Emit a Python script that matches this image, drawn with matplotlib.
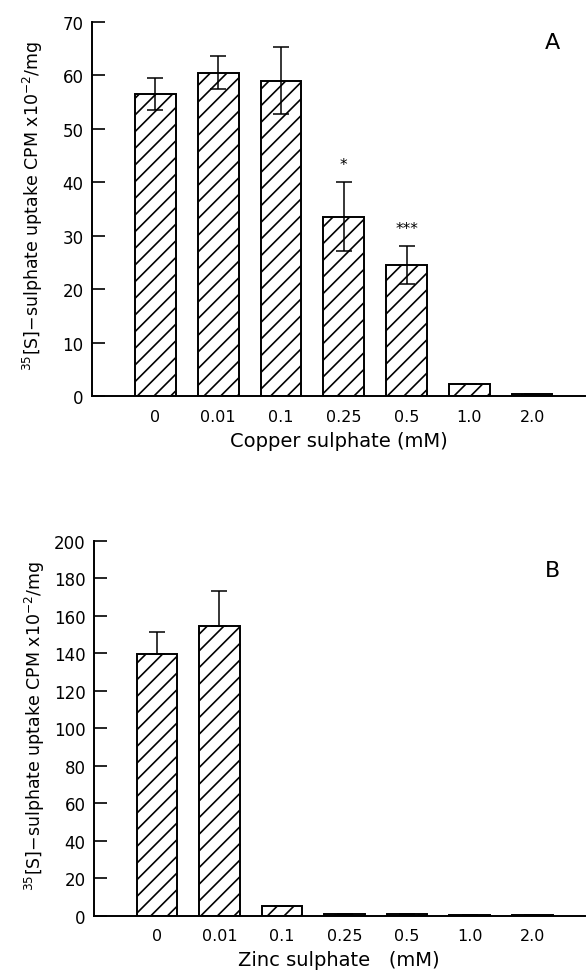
import matplotlib
matplotlib.use('Agg')
import matplotlib.pyplot as plt
import numpy as np

# Dados
conc = ['0', '0.01', '0.1', '0.25', '0.5', '1.0', '2.0']

cobre = [56.5, 60.5, 59.0, 33.6, 24.5, 2.2, 0.3]
cobre_err = [3.0, 3.1, 6.3, 6.4, 3.6, 0.0, 0.0]
cobre_sig = ['', '', '', '*', '***', '', '']

zinco = [139.5, 154.8, 5.0, 1.0, 0.8, 0.6, 0.6]
zinco_err = [12.0, 18.4, 0.0, 0.0, 0.0, 0.0, 0.0]

ylabel = r'$^{35}$[S]$-$sulphate uptake CPM x10$^{-2}$/mg'

plt.rcParams['font.family'] = 'DejaVu Sans'
plt.rcParams['hatch.linewidth'] = 1.2

fig = plt.figure(figsize=(5.86, 9.78), dpi=100)
axA = fig.add_axes([0.157, 0.594, 0.841, 0.3825])
axB = fig.add_axes([0.160, 0.0627, 0.838, 0.3831])


def painel(ax, valores, yerr, ymax, passo, xlabel, letra, ypos_letra):
    x = np.arange(len(conc))
    ax.bar(x, valores, width=0.65, color='white', edgecolor='black',
           linewidth=1.4, hatch='//', zorder=2)
    ax.errorbar(x, valores, yerr=yerr, fmt='none', ecolor='black',
                elinewidth=1.1, capsize=6, capthick=1.1, zorder=3)
    ax.set_xlim(-1.01, 6.84)
    ax.set_ylim(0, ymax)
    ax.set_yticks(np.arange(0, ymax + 1, passo))
    ax.set_xticks(x)
    ax.set_xticklabels(conc)
    ax.spines['top'].set_visible(False)
    ax.spines['right'].set_visible(False)
    ax.spines['left'].set_linewidth(1.4)
    ax.spines['bottom'].set_linewidth(1.4)
    ax.tick_params(axis='y', direction='in', length=9, width=1.2,
                   labelsize=12, pad=6)
    ax.tick_params(axis='x', length=0, labelsize=11.5, pad=9)
    ax.set_xlabel(xlabel, fontsize=14, labelpad=5)
    ax.set_ylabel(ylabel, fontsize=12.5)
    ax.yaxis.set_label_coords(-0.095, 0.51)
    ax.text(0.935, ypos_letra, letra, transform=ax.transAxes, fontsize=16,
            ha='center', va='center')
    return x


x = painel(axA, cobre, cobre_err, 70, 10, 'Copper sulphate (mM)', 'A', 0.947)
for xi, v, e, s in zip(x, cobre, cobre_err, cobre_sig):
    if s:
        axA.text(xi, v + e + 3.3, s, ha='center', va='center', fontsize=11)

painel(axB, zinco, [np.zeros(len(zinco)), zinco_err], 200, 20,
       'Zinc sulphate   (mM)', 'B', 0.923)

plt.savefig('out.png', dpi=100)
